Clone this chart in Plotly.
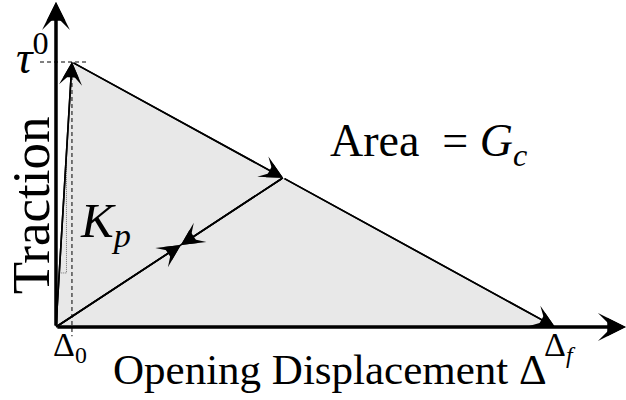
import plotly.graph_objects as go

# Bilinear cohesive traction-separation law (normalised units)
delta_0 = 0.032      # opening at damage onset
delta_f = 1.0        # opening at complete separation
tau_0 = 1.0          # peak traction
delta_u = 0.455      # opening where unloading begins
unload_meet = 0.55   # fraction along the unloading path where the two arrows meet
axis_x_end = 1.142   # end of the opening-displacement axis
axis_y_end = 1.226   # end of the traction axis
kp_base_y = 0.204    # slope triangle: traction of its base
kp_riser_x = 0.021   # slope triangle: opening of its riser

tau_u = tau_0 * (delta_f - delta_u) / (delta_f - delta_0)
mid_x = unload_meet * delta_u
mid_y = unload_meet * tau_u

FONT = "Liberation Serif"

fig = go.Figure()

# shaded area under the law (= fracture energy)
fig.add_trace(go.Scatter(
    x=[0, delta_0, delta_f, 0], y=[0, tau_0, 0, 0],
    fill="toself", fillcolor="#e8e8e8", line=dict(width=0),
    mode="lines", hoverinfo="skip"))

# dashed guides to the peak
fig.add_trace(go.Scatter(
    x=[-0.032, delta_0 + 0.032], y=[tau_0, tau_0], mode="lines",
    line=dict(color="black", width=1, dash="4px,3px"), hoverinfo="skip"))
fig.add_trace(go.Scatter(
    x=[delta_0, delta_0], y=[tau_0, -0.035], mode="lines",
    line=dict(color="black", width=1, dash="4px,3px"), hoverinfo="skip"))

# slope triangle for the penalty stiffness
kp_left = kp_base_y * delta_0 / tau_0
kp_top = kp_riser_x * tau_0 / delta_0
fig.add_trace(go.Scatter(
    x=[kp_left, kp_riser_x, kp_riser_x], y=[kp_base_y, kp_base_y, kp_top],
    mode="lines", line=dict(color="#707070", width=1, dash="1px,1px"),
    hoverinfo="skip"))

# unloading path line (arrows added below)
fig.add_trace(go.Scatter(
    x=[0, delta_u], y=[0, tau_u], mode="lines",
    line=dict(color="black", width=1.6), hoverinfo="skip"))


def arrow(x0, y0, x1, y1, width, size):
    # barbed head with a solid head layered on top -> stealth-like tip
    for head, scale in ((3, 1.0), (2, 0.8)):
        fig.add_annotation(
            x=x1, y=y1, ax=x0, ay=y0, xref="x", yref="y", axref="x", ayref="y",
            text="", showarrow=True, arrowhead=head, arrowsize=size * scale,
            arrowwidth=width, arrowcolor="black", standoff=0, startstandoff=0)


# axes
arrow(0, 0, axis_x_end, 0, 3, 1.55)
arrow(0, 0, 0, axis_y_end, 3, 1.55)

# loading, softening and unloading branches
arrow(0, 0, delta_0, tau_0, 1.6, 2.4)
arrow(delta_0, tau_0, delta_u, tau_u, 1.6, 2.4)
arrow(delta_u, tau_u, delta_f, 0, 1.6, 2.4)
arrow(0, 0, mid_x, mid_y, 1.6, 2.4)
arrow(delta_u, tau_u, mid_x, mid_y, 1.6, 2.4)


def label(x, y, text, size, xanchor="center", yanchor="middle", angle=0):
    fig.add_annotation(
        x=x, y=y, xref="x", yref="y", text=text, showarrow=False,
        xanchor=xanchor, yanchor=yanchor, textangle=angle,
        font=dict(family=FONT, size=size, color="black"))


label(-0.01, 1.03, "<i>τ</i><sup>0</sup>", 46, xanchor="right", yanchor="middle")
label(-0.05, 0.46, "Traction", 53, angle=-90)
label(delta_0 - 0.004, 0.01, "Δ<sub>0</sub>", 34, xanchor="center", yanchor="top")
label(delta_f + 0.01, 0.01, "Δ<sub><i>f</i></sub>", 34, xanchor="center", yanchor="top")
label(0.044, 0.39, "<i>K</i><sub><i>p</i></sub>", 49, xanchor="left")
label(0.545, 0.69, "Area&nbsp;&nbsp;=&nbsp;<i>G</i><sub><i>c</i></sub>", 46, xanchor="left")
label(0.549, -0.16, "Opening Displacement Δ", 43)

fig.update_layout(
    width=626, height=400, margin=dict(l=0, r=0, t=0, b=0),
    paper_bgcolor="white", plot_bgcolor="white", showlegend=False,
    xaxis=dict(range=[-0.1122, 1.1423], visible=False, fixedrange=True),
    yaxis=dict(range=[-0.2755, 1.234], visible=False, fixedrange=True),
)

fig.write_html("out.html")
